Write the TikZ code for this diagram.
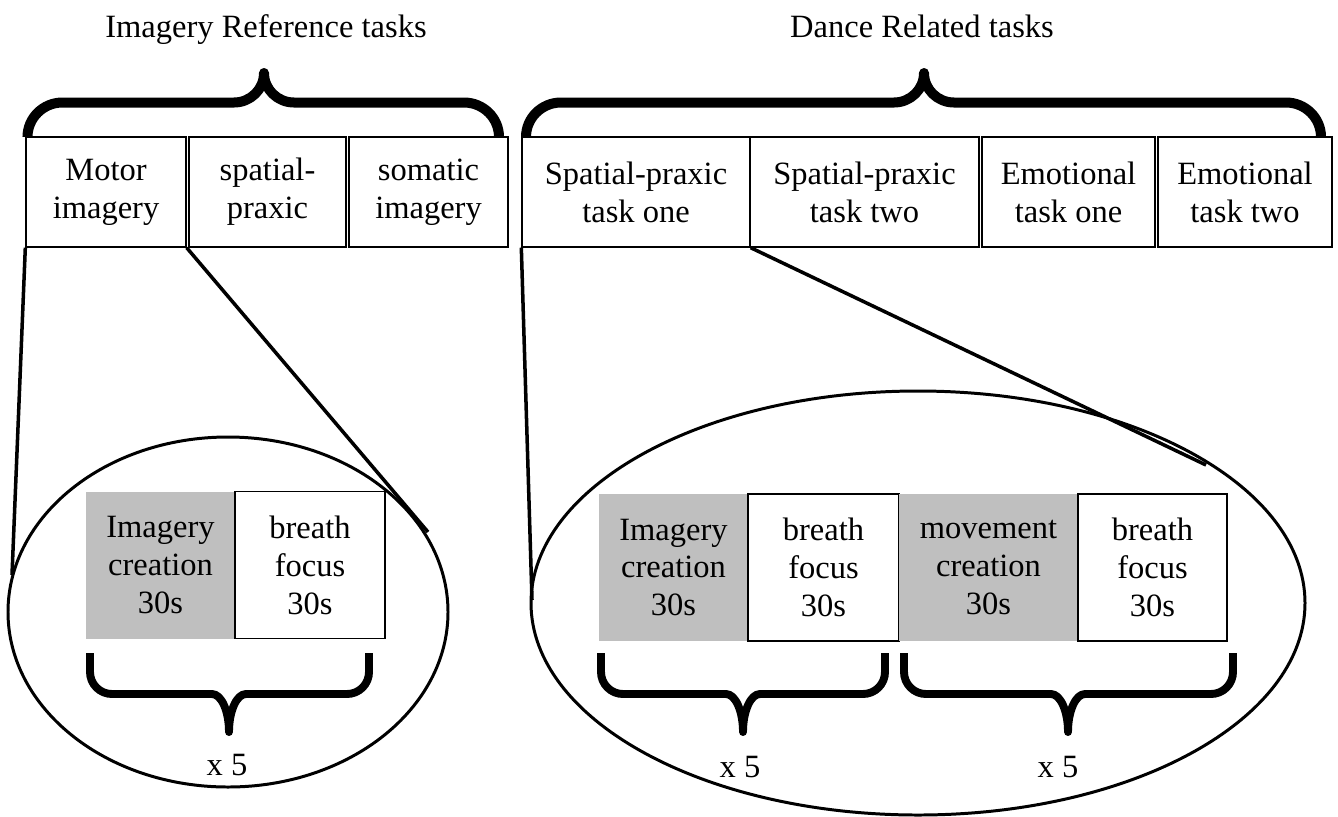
\documentclass[tikz,border=0pt]{standalone}
\usepackage{fontspec}
\setmainfont{Liberation Serif}
\usepackage{xcolor}
\usetikzlibrary{positioning,calc}

\definecolor{creagray}{HTML}{BFBFBF}
\newcommand{\taskfont}{\fontsize{18.5}{21.6}\selectfont}
% x1, xm, x2, yend, ycurl, ymid, ytip, r1, r2
\newcommand{\curly}[9]{%
  \draw[bracestroke] (#1,#4) -- (#1,#5)
    .. controls (#1,{#5+0.552*(#6-#5)}) and ({#1+0.448*#8},#6) .. ({#1+#8},#6)
    -- ({#2-#9},#6)
    .. controls ({#2-0.448*#9},#6) and (#2,{#6+0.448*(#7-#6)}) .. (#2,#7)
    .. controls (#2,{#6+0.448*(#7-#6)}) and ({#2+0.448*#9},#6) .. ({#2+#9},#6)
    -- ({#3-#8},#6)
    .. controls ({#3-0.448*#8},#6) and (#3,{#5+0.552*(#6-#5)}) .. (#3,#5)
    -- (#3,#4);}

\begin{document}
\begin{tikzpicture}[x=0.02cm,y=-0.02cm,
    taskbox/.style={draw, line width=0.8pt, align=center, inner sep=0pt,
      minimum height=2.2cm, font=\taskfont},
    phasebox/.style={align=center, inner sep=0pt, minimum height=2.94cm,
      font=\taskfont},
    imgbox/.style={phasebox, fill=creagray},
    breathbox/.style={phasebox, draw, line width=0.8pt, fill=white},
    zoomline/.style={line width=2pt},
    bracestroke/.style={line width=5.7pt, line join=round},
    titletext/.style={font=\taskfont, anchor=base}]
  \useasboundingbox (0,0) rectangle (1338,816);

  % titles
  \node[titletext] (reftitle) at (266,37) {Imagery Reference tasks};
  \node[titletext] (dancetitle) at (922,37) {Dance Related tasks};

  % zoom ellipses
  \draw[line width=1.7pt] (228,612) ellipse [x radius=220, y radius=175];
  \draw[line width=1.7pt] (918,603) ellipse [x radius=387, y radius=212];

  % imagery reference tasks
  \node[taskbox, minimum width=3.2cm] (mot) at (106,192) {Motor\\imagery};
  \node[taskbox, minimum width=3.14cm] (spa) at (267.5,192) {spatial-\\praxic};
  \node[taskbox, minimum width=3.18cm] (som) at (428.5,192) {somatic\\imagery};

  % dance related tasks
  \node[taskbox, minimum width=4.56cm] (spone) at (636,192) {Spatial-praxic\\task one};
  \node[taskbox, minimum width=4.58cm] (sptwo) at (864.5,192) {Spatial-praxic\\task two};
  \node[taskbox, minimum width=3.46cm] (emone) at (1068.5,192) {Emotional\\task one};
  \node[taskbox, minimum width=3.48cm] (emtwo) at (1245,192) {Emotional\\task two};

  \curly{27.5}{264}{499}{137}{137}{102.5}{73}{35}{30}
  \curly{526}{924}{1321}{137}{137}{102.5}{73}{35}{30}

  % zoom lines
  \coordinate (lzl) at (12,575);
  \coordinate (lzr) at (428,532);
  \coordinate (rzl) at (532,600);
  \coordinate (rzr) at (1206,465);
  \draw[zoomline] (mot.south west) -- (lzl);
  \draw[zoomline] (mot.south east) -- (lzr);
  \draw[zoomline] (spone.south west) -- (rzl);
  \draw[zoomline] (spone.south east) -- (rzr);

  % blocks, reference tasks
  \node[imgbox, minimum width=2.98cm] (img) at (160.5,565) {Imagery\\creation\\30s};
  \node[breathbox, minimum width=3.0cm] (bre) at (310,565) {breath\\focus\\30s};

  % blocks, dance tasks
  \node[imgbox, minimum width=2.98cm] (dimg) at (673.5,567.5) {Imagery\\creation\\30s};
  \node[breathbox, minimum width=3.02cm] (dbreone) at (823.5,567.5) {breath\\focus\\30s};
  \node[imgbox, minimum width=3.58cm] (mov) at (988.5,567.5) {movement\\creation\\30s};
  \node[breathbox, minimum width=2.98cm] (dbretwo) at (1152.5,567.5) {breath\\focus\\30s};

  \begin{scope}[bracestroke/.style={line width=4.5pt, line join=round}]
    \curly{90}{229}{369}{653}{672}{694}{732}{22}{17}
    \curly{601}{743}{885}{653}{672}{694}{732}{22}{17}
    \curly{904}{1068}{1233}{653}{672}{694}{732}{22}{17}
  \end{scope}
  \node[titletext] (rep) at (227,775) {x 5};
  \node[titletext] (drepone) at (740,777) {x 5};
  \node[titletext] (dreptwo) at (1058,777) {x 5};
\end{tikzpicture}
\end{document}
